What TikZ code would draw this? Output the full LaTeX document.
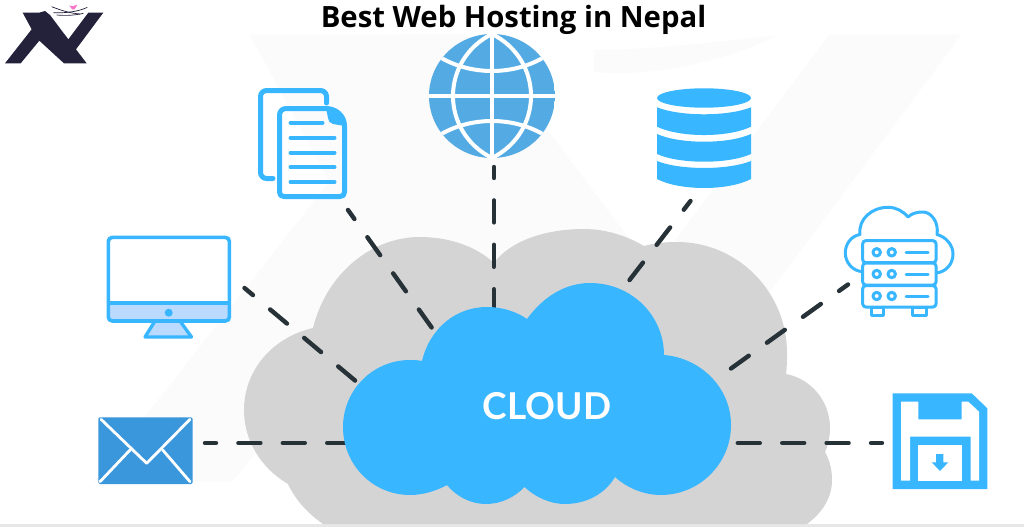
\documentclass[tikz,border=0pt]{standalone}
\usepackage{fontspec}
\setmainfont{Open Sans}
\newfontfamily\cloudfont{Lato}
\definecolor{sky}{HTML}{38B6FF}
\definecolor{globeblue}{HTML}{54AAE3}
\definecolor{mailblue}{HTML}{3A97DC}
\definecolor{panel}{HTML}{BBDAFF}
\definecolor{greycloud}{HTML}{D4D4D4}
\definecolor{wm}{HTML}{FBFBFB}
\definecolor{dashcol}{HTML}{263238}
\definecolor{logoink}{HTML}{24213A}
\tikzset{
  conn/.style={draw=dashcol,line width=4.4pt,line cap=round,dash pattern=on 22pt off 22.4pt,dash phase=11pt},
  outline/.style={draw=sky,line width=5pt,line join=round,line cap=round},
  thinline/.style={draw=sky,line width=3pt,line join=round,line cap=round},
  docline/.style={draw=sky,line width=4pt,line cap=round},
  whiteline/.style={draw=white,line width=4pt},
  mailline/.style={draw=white,line width=2.8pt,line cap=round,line join=round},
}
\newcommand{\logoshape}{(68,38) -- (118,38) -- (135,33) -- (150,45) -- (205,118) -- (265,38) -- (310,38) -- (228,148) -- (260,190) -- (192,190) -- (118,122) -- (62,190) -- (15,190) -- (95,88) -- cycle}
\newcommand{\dbband}[4]{\fill[sky] (657,#1) .. controls (680,#2) and (728,#2) .. (751,#1) -- (751,#3) .. controls (728,#4) and (680,#4) .. (657,#3) -- cycle;}
\begin{document}
\begin{tikzpicture}[x=1pt,y=-1pt]
\useasboundingbox (0,0) rectangle (1024,527);
\fill[white] (0,0) rectangle (1024,527);
% watermark
\begin{scope}
\clip (0,35) rectangle (1024,527);
\begin{scope}[shift={(50,-77)},scale=2.94]
\fill[wm] \logoshape;
\end{scope}
\fill[wm] (594,50) .. controls (650,50) and (720,42) .. (778,35) .. controls (730,60) and (650,78) .. (594,72) -- cycle;
\end{scope}
\fill[greycloud!55!white] (0,524) rectangle (1024,527);
% grey cloud
\fill[greycloud] (313,328) .. controls (326,275) and (370,237) .. (420,237)
 .. controls (450,237) and (477,247) .. (494,263)
 .. controls (510,241) and (545,229) .. (584,229)
 .. controls (606,229) and (627,236) .. (644,246)
 .. controls (655,243) and (666,242) .. (677,242)
 .. controls (738,242) and (787,292) .. (787,353)
 .. controls (787,360) and (787,367) .. (786,374)
 .. controls (812,379) and (830,402) .. (830,428)
 .. controls (830,436) and (828,445) .. (825,452)
 .. controls (830,461) and (832,470) .. (832,480)
 .. controls (832,498) and (822,513) .. (807,524)
 -- (323,524)
 .. controls (306,512) and (295,499) .. (288,484)
 .. controls (261,468) and (244,441) .. (244,410)
 .. controls (244,370) and (273,337) .. (313,328) -- cycle;
% connector ends
\coordinate (mailEnd) at (205,443);
\coordinate (cloudW) at (350,443);
\coordinate (floppyEnd) at (882,443);
\coordinate (cloudE) at (737,443);
\coordinate (globeEnd) at (494,167);
\coordinate (cloudN) at (494,312);
\coordinate (docEnd) at (348,210);
\coordinate (cloudNW) at (437,335);
\coordinate (dbEnd) at (690.5,201);
\coordinate (cloudNE) at (628,282);
\coordinate (serverEnd) at (848,284.5);
\coordinate (cloudENE) at (731,368.5);
\coordinate (monitorEnd) at (244.5,288);
\coordinate (cloudWNW) at (358,383);
\draw[conn] (mailEnd) -- (cloudW);
\draw[conn] (floppyEnd) -- (cloudE);
\draw[conn] (globeEnd) -- (cloudN);
\draw[conn] (docEnd) -- (cloudNW);
\draw[conn] (dbEnd) -- (cloudNE);
\draw[conn] (serverEnd) -- (cloudENE);
\draw[conn] (monitorEnd) -- (cloudWNW);
% blue cloud
\fill[sky] (422,361) .. controls (430,328) and (456,307) .. (487,307)
 .. controls (503,307) and (517,312) .. (527,319)
 .. controls (543,297) and (565,283) .. (590,283)
 .. controls (632,283) and (664,316) .. (664,355)
 .. controls (701,358) and (731,388) .. (731,425)
 .. controls (731,464) and (699,495) .. (661,495)
 .. controls (644,495) and (627,488) .. (615,477)
 .. controls (605,494) and (586,504) .. (565,504)
 .. controls (550,504) and (535,497) .. (524.5,487)
 .. controls (515,497) and (501,504) .. (486,504)
 .. controls (470,504) and (456,496) .. (447,485)
 .. controls (436,491) and (423,495) .. (410,495)
 .. controls (373,495) and (343,465) .. (343,427)
 .. controls (343,390) and (373,360) .. (410,360)
 .. controls (414,360) and (418,360) .. (422,361) -- cycle;
\node[text=white,inner sep=0pt,anchor=base] (cloudlabel) at (547,419) {\cloudfont\bfseries\fontsize{37}{37}\selectfont CLOUD};
% title
\node[text=black,inner sep=0pt,anchor=base] (title) at (513.5,28) {\bfseries\fontsize{29.3}{29.3}\selectfont Best Web Hosting in Nepal};
% logo
\begin{scope}[scale=0.3333]
\fill[logoink] \logoshape;
\draw[logoink,line width=0.7pt] (155,20) .. controls (180,30) and (210,40) .. (240,42);
\draw[logoink,line width=0.7pt] (160,38) .. controls (195,40) and (235,35) .. (262,22);
\draw[logoink,line width=0.7pt] (170,45) .. controls (200,48) and (230,45) .. (250,40);
\fill[red!40!magenta!55!white] (208,16) -- (218,19) -- (232,14) -- (224,28) -- (216,28) -- cycle;
\end{scope}
% globe
\begin{scope}
\clip (492,96) ellipse [x radius=63, y radius=62];
\fill[globeblue] (429,34) rectangle (555,158);
\draw[whiteline] (492,30) -- (492,162);
\draw[whiteline] (425,96) -- (559,96);
\draw[whiteline] (492,34) .. controls (440,60) and (440,132) .. (492,158);
\draw[whiteline] (492,34) .. controls (544,60) and (544,132) .. (492,158);
\draw[whiteline] (438,56) .. controls (470,76) and (514,76) .. (546,56);
\draw[whiteline] (438,136) .. controls (470,116) and (514,116) .. (546,136);
\end{scope}
% documents
\draw[outline,rounded corners=6pt] (326.5,103) -- (326.5,90.5) -- (260.5,90.5) -- (260.5,178.5) -- (273,178.5);
\draw[outline] (326,108.5) -- (286,108.5) arc[start angle=-90,end angle=-180,radius=6.5] -- (279.5,192) .. controls (279.5,195) and (281,196.5) .. (284,196.5) -- (340,196.5) .. controls (343,196.5) and (344.5,195) .. (344.5,192) -- (344.5,126) .. controls (344.5,116) and (336,108.5) .. (326,108.5);
\fill[sky] (326,108) .. controls (336,108) and (345,116) .. (345,126) -- (333,124) .. controls (330,123) and (328,121) .. (328,118) -- cycle;
\draw[docline] (290.5,122.7) -- (322.5,122.7);
\draw[docline] (290.5,137.7) -- (334.5,137.7);
\draw[docline] (290.5,152.7) -- (334.5,152.7);
\draw[docline] (290.5,167.3) -- (334.5,167.3);
\draw[docline] (290.5,182.3) -- (334.5,182.3);
% database
\fill[sky] (704,98) ellipse [x radius=47, y radius=9.7];
\dbband{107.3}{116.6}{126.7}{137.8}
\dbband{134}{144.3}{154}{164.3}
\dbband{161}{170.3}{179}{191}
% server cloud
\draw[thinline] (862.7,271.7) .. controls (852,271) and (845.3,262) .. (845.3,253) .. controls (845.3,244) and (851,236) .. (860,234.5) .. controls (858,219) and (872,207.3) .. (888,207.3) .. controls (896,207.3) and (903,211) .. (908,217) .. controls (912,213) and (918,212) .. (923,212) .. controls (931,212) and (939,222) .. (937,234.5) .. controls (946,237) and (953,245) .. (953,254) .. controls (953,264) and (946,272) .. (936,273);
\draw[thinline,fill=white] (871.7,307) rectangle (883.3,315);
\draw[thinline,fill=white] (912.7,307) rectangle (926.7,315);
\draw[thinline,fill=white,rounded corners=3pt] (862.7,240.7) rectangle (936,262.7);
\draw[thinline,fill=white,rounded corners=3pt] (862.7,263) rectangle (936,285);
\draw[thinline,fill=white,rounded corners=3pt] (862.7,285.7) rectangle (936,307);
\foreach \yy in {252.3,274,296}{
  \draw[thinline] (876.7,\yy) circle [radius=3.7];
  \draw[thinline] (891.7,\yy) circle [radius=3.7];
  \draw[thinline] (906,\yy) -- (928,\yy);
}
% monitor
\draw[draw=sky,fill=panel,line width=3.3pt,line join=round] (155,321) -- (180,321) -- (191.5,337) -- (145,337) -- cycle;
\fill[panel,rounded corners=3pt] (108.3,302) rectangle (229.4,321);
\draw[draw=sky,line width=3.6pt,rounded corners=4pt] (108.3,237.4) rectangle (229.4,321);
\draw[draw=sky,line width=3.3pt] (108.3,303) -- (229.4,303);
\fill[sky] (168.7,312.7) circle [radius=4];
% mail
\fill[mailblue,rounded corners=1.5pt] (98.3,417.3) rectangle (192.7,484);
\draw[mailline] (101,419.3) -- (146.7,463.3) -- (190,419.3);
\draw[mailline] (130,450) -- (100,481.7);
\draw[mailline] (162.7,450) -- (190,481.7);
% floppy
\fill[sky] (892.7,393.3) -- (971.7,393.3) -- (987.3,408.3) -- (987.3,489) -- (892.7,489) -- cycle;
\fill[white] (901,401.7) -- (918.3,401.7) -- (918.3,419.3) -- (961.7,419.3) -- (961.7,401.7) -- (968.3,401.7) -- (979,411.7) -- (979,480.7) -- (970.7,480.7) -- (970.7,436.7) -- (910,436.7) -- (910,480.7) -- (901,480.7) -- cycle;
\fill[white] (918.3,445) rectangle (961.7,480.7);
\fill[sky] (936,454) -- (943.3,454) -- (943.3,462.3) -- (948.3,462.3) -- (940,471) -- (931.7,462.3) -- (936,462.3) -- cycle;
\end{tikzpicture}
\end{document}
